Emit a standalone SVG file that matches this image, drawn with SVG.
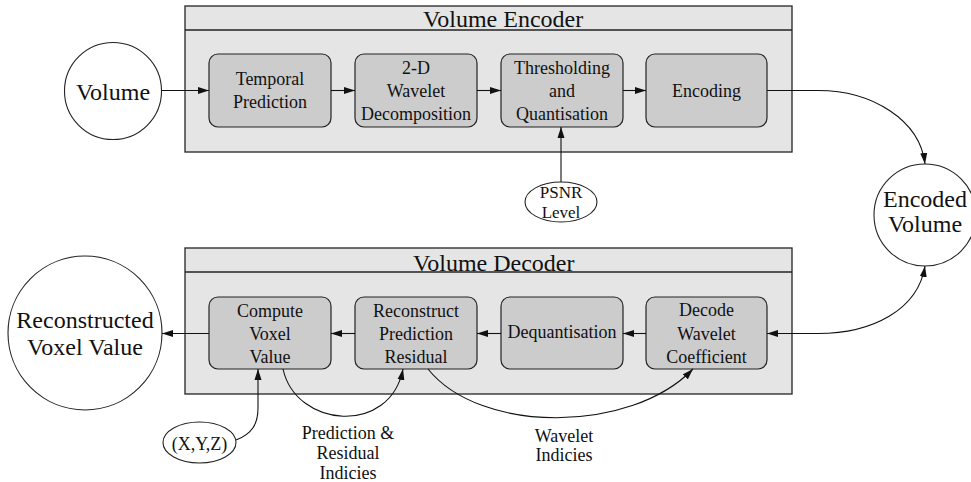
<svg xmlns="http://www.w3.org/2000/svg" width="971" height="482" viewBox="0 0 971 482">
  <style>
    text { fill: #111; text-anchor: middle; }
    .panel { fill: #e5e5e5; stroke: #333; stroke-width: 1.4; }
    .sep { stroke: #222; stroke-width: 1.4; fill: none; }
    .step { fill: #cccccc; stroke: #222; stroke-width: 1.2; }
    .term { fill: #ffffff; stroke: #222; stroke-width: 1.1; }
    .title { font-size: 24px; text-anchor: start; }
    .big { font-size: 24px; }
    .lbl { font-size: 18px; }
    .small { font-size: 17px; }
    .wire { fill: none; stroke: #111; stroke-width: 1.1; }
  </style>
  <defs>
    <marker id="arrow" markerUnits="userSpaceOnUse" markerWidth="11" markerHeight="8" refX="11" refY="4" orient="auto-start-reverse">
      <path d="M0,0.5 L11,4 L0,7.5 z" fill="#111"/>
    </marker>
  </defs>

  <g font-family="Liberation Serif, DejaVu Serif, serif">
  <!-- encoder panel -->
  <g id="encoder">
    <rect class="panel" x="185" y="6" width="607" height="146"/>
    <line class="sep" x1="185" y1="30" x2="792" y2="30"/>
    <text class="title" x="423" y="27">Volume Encoder</text>
  </g>

  <!-- decoder panel -->
  <g id="decoder">
    <rect class="panel" x="185" y="248" width="607" height="146"/>
    <line class="sep" x1="185" y1="272" x2="792" y2="272"/>
    <text class="title" x="413" y="271">Volume Decoder</text>
  </g>

  <g id="volume">
    <circle class="term" cx="113" cy="91" r="48.5"/>
    <text class="big" x="113" y="100">Volume</text>
  </g>

  <g id="temporal-prediction">
    <rect class="step" x="209" y="54" width="122" height="73" rx="9"/>
    <text class="lbl" x="270" y="85">Temporal</text>
    <text class="lbl" x="270" y="108">Prediction</text>
  </g>

  <g id="wavelet-decomposition">
    <rect class="step" x="355" y="54" width="122" height="73" rx="9"/>
    <text class="lbl" x="416" y="74">2-D</text>
    <text class="lbl" x="416" y="97">Wavelet</text>
    <text class="lbl" x="416" y="120">Decomposition</text>
  </g>

  <g id="thresholding">
    <rect class="step" x="501" y="54" width="122" height="73" rx="9"/>
    <text class="lbl" x="562" y="74">Thresholding</text>
    <text class="lbl" x="562" y="97">and</text>
    <text class="lbl" x="562" y="120">Quantisation</text>
  </g>

  <g id="encoding">
    <rect class="step" x="646" y="54" width="121" height="73" rx="9"/>
    <text class="lbl" x="706.5" y="97">Encoding</text>
  </g>

  <g id="psnr-level">
    <ellipse class="term" cx="561" cy="202" rx="36" ry="20"/>
    <text class="small" x="561" y="198">PSNR</text>
    <text class="small" x="561" y="218">Level</text>
  </g>

  <g id="encoded-volume">
    <circle class="term" cx="925" cy="215" r="51"/>
    <text class="big" x="925" y="207">Encoded</text>
    <text class="big" x="925" y="232">Volume</text>
  </g>

  <g id="compute-voxel">
    <rect class="step" x="209" y="297" width="122" height="72" rx="9"/>
    <text class="lbl" x="270" y="317">Compute</text>
    <text class="lbl" x="270" y="340">Voxel</text>
    <text class="lbl" x="270" y="363">Value</text>
  </g>

  <g id="reconstruct-residual">
    <rect class="step" x="355" y="297" width="122" height="72" rx="9"/>
    <text class="lbl" x="416" y="317">Reconstruct</text>
    <text class="lbl" x="416" y="340">Prediction</text>
    <text class="lbl" x="416" y="363">Residual</text>
  </g>

  <g id="dequantisation">
    <rect class="step" x="501" y="297" width="122" height="72" rx="9"/>
    <text class="lbl" x="562" y="338">Dequantisation</text>
  </g>

  <g id="decode-wavelet">
    <rect class="step" x="646" y="297" width="121" height="72" rx="9"/>
    <text class="lbl" x="706.5" y="316">Decode</text>
    <text class="lbl" x="706.5" y="340">Wavelet</text>
    <text class="lbl" x="706.5" y="363">Coefficient</text>
  </g>

  <g id="reconstructed-voxel">
    <circle class="term" cx="85" cy="333" r="77"/>
    <text class="big" x="85" y="328">Reconstructed</text>
    <text class="big" x="85" y="355">Voxel Value</text>
  </g>

  <g id="xyz">
    <ellipse class="term" cx="199.5" cy="442.5" rx="36.5" ry="20.5"/>
    <text class="lbl" x="199.5" y="450">(X,Y,Z)</text>
  </g>

  <!-- connectors -->
  <g id="connectors">
    <path class="wire" d="M161.5,90.5 L209,90.5" marker-end="url(#arrow)"/>
    <path class="wire" d="M331,90.5 L355,90.5" marker-end="url(#arrow)"/>
    <path class="wire" d="M477,90.5 L501,90.5" marker-end="url(#arrow)"/>
    <path class="wire" d="M623,90.5 L646,90.5" marker-end="url(#arrow)"/>
    <path class="wire" d="M767,90.5 L818,90.5 C872,90.5 920,120 925,164" marker-end="url(#arrow)"/>
    <path class="wire" d="M561,182 L561,127" marker-end="url(#arrow)"/>

    <path class="wire" d="M925,266 C918,310 872,333.5 818,333.5 L767,333.5" marker-start="url(#arrow)" marker-end="url(#arrow)"/>
    <path class="wire" d="M646,333.5 L623,333.5" marker-end="url(#arrow)"/>
    <path class="wire" d="M501,333.5 L477,333.5" marker-end="url(#arrow)"/>
    <path class="wire" d="M355,333.5 L331,333.5" marker-end="url(#arrow)"/>
    <path class="wire" d="M209,333.5 L162,333.5" marker-end="url(#arrow)"/>

    <path class="wire" d="M236,440 C252,434 258,424 258,408 L258,369" marker-end="url(#arrow)"/>
    <path class="wire" d="M283,369 C296,428 390,436 403,369" marker-end="url(#arrow)"/>
    <path class="wire" d="M428,369 C480,434 630,434 693,369" marker-end="url(#arrow)"/>
  </g>

  <g id="edge-labels">
    <text class="lbl" x="348" y="439">Prediction &amp;</text>
    <text class="lbl" x="348" y="459">Residual</text>
    <text class="lbl" x="348" y="479">Indicies</text>
    <text class="lbl" x="564" y="442">Wavelet</text>
    <text class="lbl" x="564" y="461">Indicies</text>
  </g>
  </g>
</svg>
